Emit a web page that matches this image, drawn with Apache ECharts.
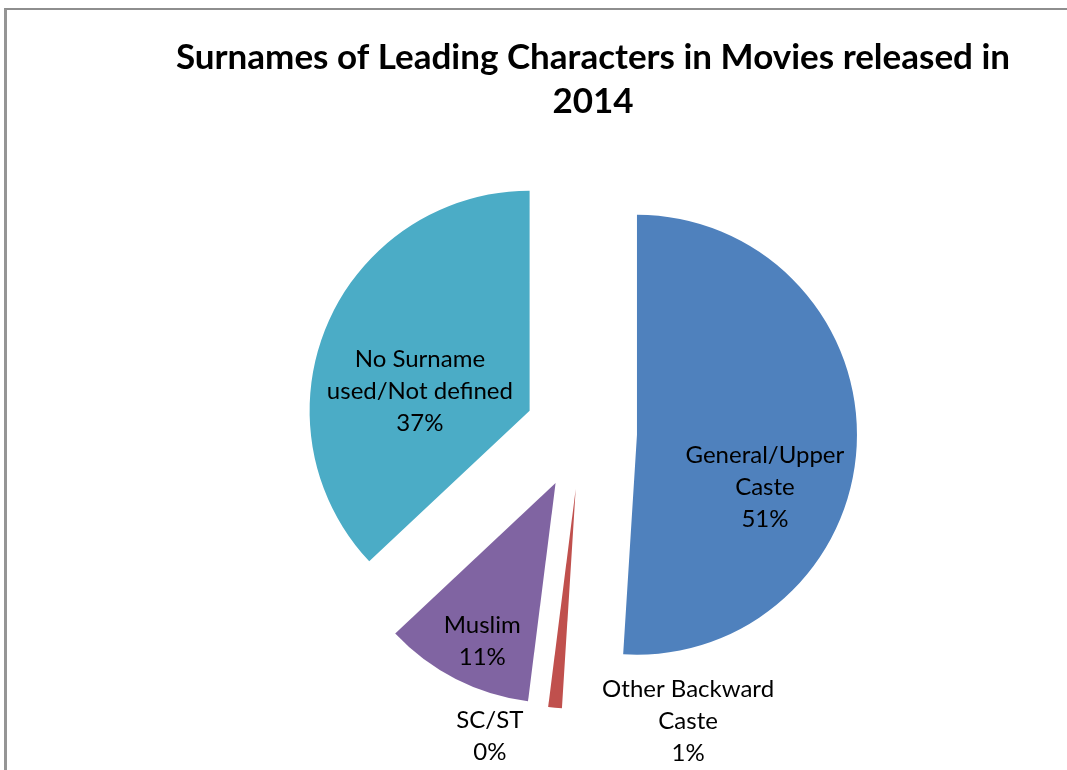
<!DOCTYPE html>
<html>
<head>
<meta charset="utf-8">
<script src="https://cdn.jsdelivr.net/npm/echarts@6/dist/echarts.min.js"></script>
<style>
  html, body { margin: 0; padding: 0; background: #fff; }
  #frame {
    position: absolute; left: 4px; top: 8px; width: 1080px; height: 800px;
    border-left: 3px solid #959595; border-top: 2px solid #8e8e8e;
  }
  #chart { position: absolute; left: 0; top: 0; width: 1067px; height: 770px; }
</style>
</head>
<body>
<div id="frame"></div>
<div id="chart"></div>
<script>
  // data (percent of leading characters)
  const categories = ['General/Upper Caste', 'Other Backward Caste', 'SC/ST', 'Muslim', 'No Surname used/Not defined'];
  const labelNames = ['General/Upper\nCaste', 'Other Backward\nCaste', 'SC/ST', 'Muslim', 'No Surname\nused/Not defined'];
  const shares = [51, 1, 0, 11, 37];
  const colors = ['#4F81BD', '#C0504D', '#9BBB59', '#8064A2', '#4BACC6'];

  // label nudges (Excel puts them where it likes)
  const labelShift = [[15, 49], [123, 120], [-70, 136], [-22, 58], [-6, 25]];

  let myChart = echarts.init(document.getElementById('chart'));

  let option = {
    animation: false,
    title: {
      text: 'Surnames of Leading Characters in Movies released in\n2014',
      left: 588,
      top: 31,
      textAlign: 'center',
      textStyle: {
        fontFamily: 'Lato',
        fontWeight: 'bold',
        fontSize: 35,
        lineHeight: 44,
        color: '#000'
      }
    },
    series: [
      {
        name: 'Surnames',
        type: 'pie',
        center: [581, 433],
        radius: 220,
        startAngle: 90,
        clockwise: true,
        avoidLabelOverlap: false,
        stillShowZeroSum: true,
        percentPrecision: 0,
        selectedMode: 'multiple',
        selectedOffset: 56, // every slice pulled out
        select: { itemStyle: { borderWidth: 0 } },
        emphasis: { disabled: true },
        labelLine: { show: false },
        label: {
          position: 'inside',
          fontFamily: 'Lato',
          fontSize: 24,
          lineHeight: 32,
          color: '#000',
          align: 'center',
          formatter: function (p) {
            return labelNames[p.dataIndex] + '\n' + p.percent + '%';
          }
        },
        labelLayout: function (params) {
          return { dx: labelShift[params.dataIndex][0], dy: labelShift[params.dataIndex][1] };
        },
        data: categories.map(function (name, i) {
          return {
            name: name,
            value: shares[i],
            selected: true,
            itemStyle: { color: colors[i] }
          };
        })
      }
    ]
  };

  myChart.setOption(option);
</script>
</body>
</html>
